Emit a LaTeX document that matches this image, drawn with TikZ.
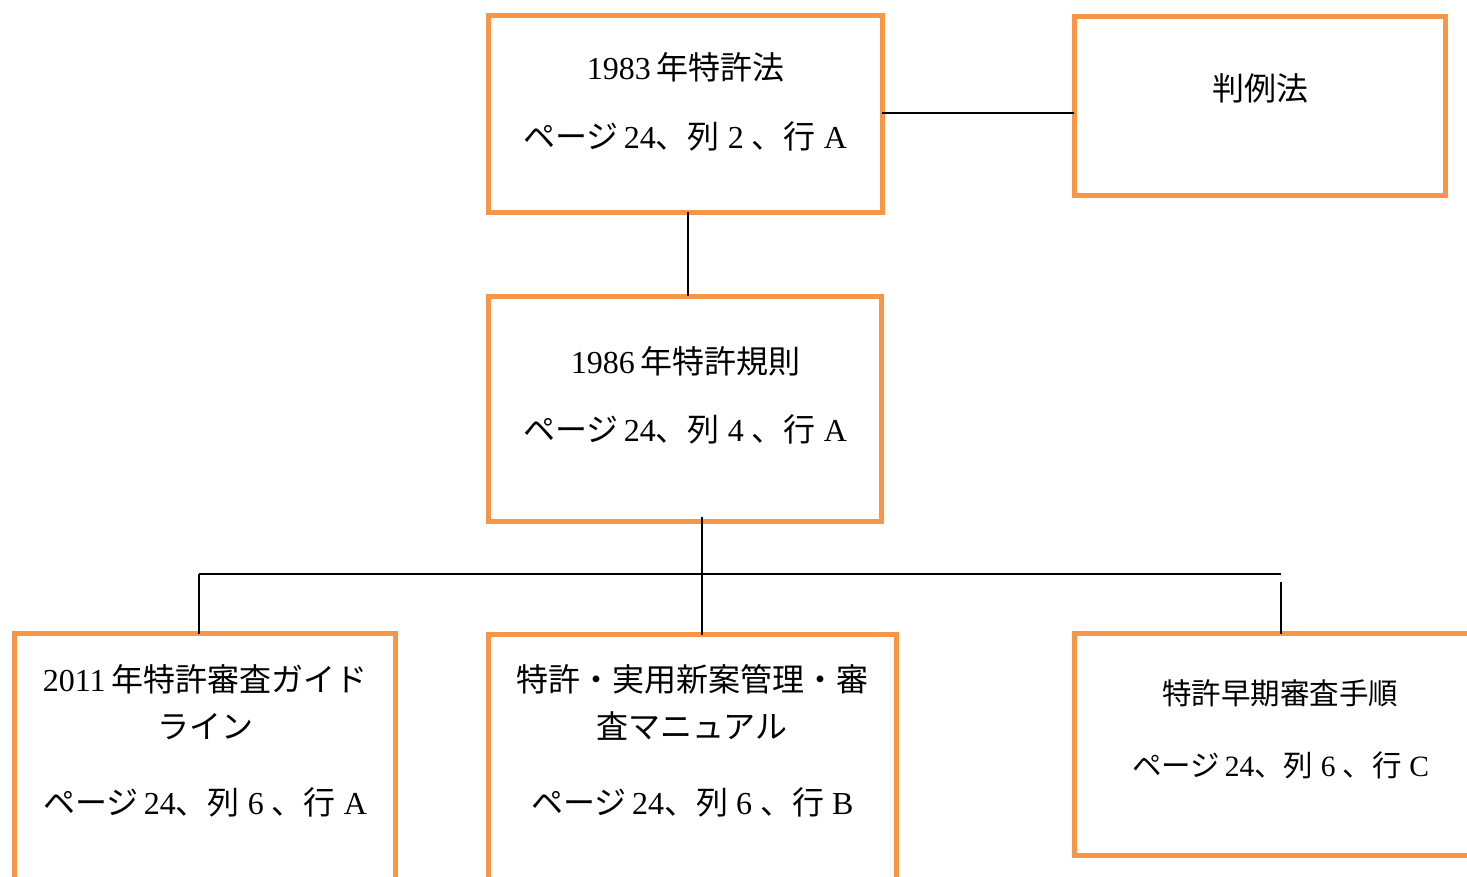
\documentclass[tikz,border=0pt]{standalone}
\usepackage{fontspec}
\setmainfont{Liberation Serif}
\newfontfamily\cjk{Noto Sans CJK JP}
\definecolor{boxorange}{HTML}{F79646}
\tikzset{
  box/.style={draw=boxorange, line width=5pt, rectangle, outer sep=0pt, inner sep=0pt},
  conn/.style={draw=black, line width=1.6pt},
  lbl/.style={anchor=base, inner sep=0pt, font=\fontsize{32}{38}\selectfont},
  lblsmall/.style={lbl, font=\fontsize{29.5}{35}\selectfont}
}
\newcommand{\J}[1]{{\cjk #1}}
\begin{document}
\begin{tikzpicture}[x=1pt,y=-1pt]
\useasboundingbox (0,0) rectangle (1467,876);
\clip (0,0) rectangle (1467,876);
% boxes
\node[box, minimum width=394pt, minimum height=197pt] (b1) at (685,113.5) {};
\node[box, minimum width=371pt, minimum height=179pt] (b2) at (1259.5,106) {};
\node[box, minimum width=393pt, minimum height=225pt] (b3) at (685,408.5) {};
\node[box, minimum width=381pt, minimum height=286.5pt] (b4) at (205,776.75) {};
\node[box, minimum width=407.5pt, minimum height=285.5pt] (b5) at (692.25,777.25) {};
\node[box, minimum width=425.5pt, minimum height=222pt] (b6) at (1287.25,744.5) {};
% texts
\node[lbl] (t1a) at (685.5,79) {1983\,\J{年特許法}};
\node[lbl] (t1b) at (685,148) {\J{ページ}\,24\J{、列}\ 2\ \J{、行}\ A};
\node[lbl] (t2a) at (1260,100) {\J{判例法}};
\node[lbl] (t3a) at (685.5,373) {1986\,\J{年特許規則}};
\node[lbl] (t3b) at (685,441) {\J{ページ}\,24\J{、列}\ 4\ \J{、行}\ A};
\node[lbl] (t4a) at (205,691) {2011\,\J{年特許審査ガイド}};
\node[lbl] (t4b) at (205,738) {\J{ライン}};
\node[lbl] (t4c) at (205,814) {\J{ページ}\,24\J{、列}\ 6\ \J{、行}\ A};
\node[lbl] (t5a) at (692.5,691) {\J{特許・実用新案管理・審}};
\node[lbl] (t5b) at (692,738) {\J{査マニュアル}};
\node[lbl] (t5c) at (692.5,814) {\J{ページ}\,24\J{、列}\ 6\ \J{、行}\ B};
\node[lblsmall] (t6a) at (1280,704) {\J{特許早期審査手順}};
\node[lblsmall] (t6b) at (1280.5,776) {\J{ページ}\,24\J{、列}\ 6\ \J{、行}\ C};
% connectors
\coordinate (e1) at (882,113);
\draw[conn] (e1) -- (e1 -| b2.west);
\draw[conn] ([xshift=3pt]b1.south) -- ([xshift=3pt]b3.north);
\coordinate (busL) at (199,574);
\coordinate (busR) at (1281,574);
\coordinate (dropR) at (1281,582);
\draw[conn] ([xshift=17pt,yshift=4pt]b3.south) -- ([xshift=17pt]b3.south |- b5.north);
\draw[conn] (busL) -- (busR);
\draw[conn] (busL) -- (busL |- b4.north);
\draw[conn] (dropR) -- (dropR |- b6.north);
\end{tikzpicture}
\end{document}
